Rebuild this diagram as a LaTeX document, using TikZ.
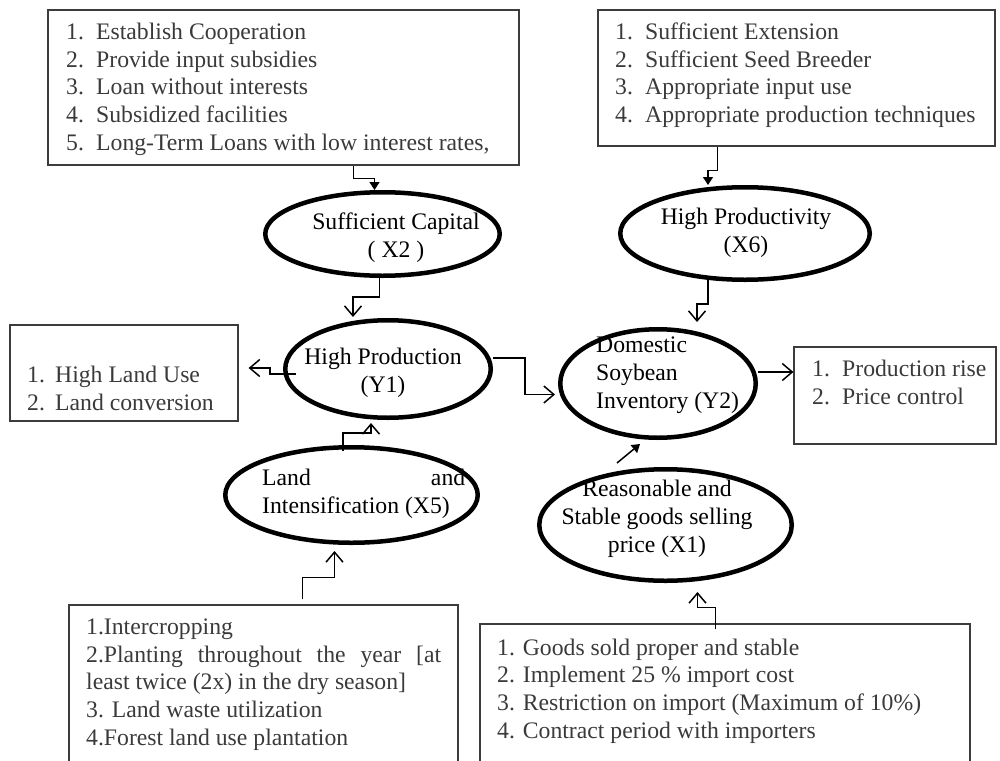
\documentclass[tikz,border=0pt]{standalone}
\usepackage{fontspec}
\setmainfont{Liberation Serif}
\usetikzlibrary{arrows.meta,shapes.geometric,calc}
\definecolor{boxgray}{HTML}{3C3C3C}
\definecolor{txtgray}{HTML}{3A3A3A}
\begin{document}
\begin{tikzpicture}[x=1pt,y=-1pt,
  ell/.style={ellipse,draw=black,line width=4.5pt,inner sep=0pt},
  box/.style={rectangle,draw=boxgray,line width=1.2pt,inner sep=0pt},
  btxt/.style={anchor=base west,align=left,inner sep=0pt,text=txtgray,font=\fontsize{23.7}{27.6}\selectfont},
  etxt/.style={anchor=base,align=center,inner sep=0pt,text=black,font=\fontsize{23.7}{28}\selectfont},
  oa/.style={line width=1.5pt,-{Straight Barb[length=10pt,width=17pt]}},
  fa/.style={line width=1.5pt,-{Triangle[length=8pt,width=10pt]}}]
\useasboundingbox (0,0) rectangle (1000,760);
% boxes
\node[box,minimum width=471pt,minimum height=155pt] (b1) at (283.5,87.5) {};
\node[box,minimum width=397pt,minimum height=136pt] (b2) at (796.5,78) {};
\node[box,minimum width=228pt,minimum height=96pt] (lb) at (124,373) {};
\node[box,minimum width=202pt,minimum height=97pt] (rb) at (895,395.5) {};
\node[box,minimum width=389pt,minimum height=170pt] (bl) at (263.5,690) {};
\node[box,minimum width=490pt,minimum height=151pt] (br) at (725,699.5) {};
% box texts (anchored at the baseline of their last line)
\node[btxt] (b1t) at (66,150) {\makebox[30pt][l]{1.}Establish Cooperation\\\makebox[30pt][l]{2.}Provide input subsidies\\\makebox[30pt][l]{3.}Loan without interests\\\makebox[30pt][l]{4.}Subsidized facilities\\\makebox[30pt][l]{5.}Long-Term Loans with low interest rates,};
\node[btxt] (b2t) at (615,122.5) {\makebox[30pt][l]{1.}Sufficient Extension\\\makebox[30pt][l]{2.}Sufficient Seed Breeder\\\makebox[30pt][l]{3.}Appropriate input use\\\makebox[30pt][l]{4.}Appropriate production techniques};
\node[btxt] (lbt) at (27,410) {\makebox[28pt][l]{1.}High Land Use\\\makebox[28pt][l]{2.}Land conversion};
\node[btxt] (rbt) at (812,404) {\makebox[30pt][l]{1.}Production rise\\\makebox[30pt][l]{2.}Price control};
\node[btxt] (blt) at (86,745) {1.Intercropping\\\hbox to 355pt{2.Planting\hfill throughout\hfill the\hfill year\hfill [at}\\least twice (2x) in the dry season]\\3. Land waste utilization\\4.Forest land use plantation};
\node[btxt] (brt) at (497,738) {1. Goods sold proper and stable\\2. Implement 25 \% import cost\\3. Restriction on import (Maximum of 10\%)\\4. Contract period with importers};
% ellipses
\node[ell,minimum width=234.5pt,minimum height=83.5pt] (x2) at (382.5,234) {};
\node[ell,minimum width=249.5pt,minimum height=92.5pt] (x6) at (745,233.5) {};
\node[ell,minimum width=205.5pt,minimum height=97.5pt] (y1) at (388,369) {};
\node[ell,minimum width=195.5pt,minimum height=108.5pt] (y2) at (658,383.5) {};
\node[ell,minimum width=252.5pt,minimum height=95.5pt] (x5) at (351.5,495) {};
\node[ell,minimum width=252.5pt,minimum height=111.5pt] (x1) at (665.5,525) {};
% ellipse texts (anchored at the baseline of their last line)
\node[etxt] (x2t) at (396,257) {Sufficient Capital\\( X2 )};
\node[etxt] (x6t) at (746,252) {High Productivity\\(X6)};
\node[etxt] (y1t) at (383,392) {High Production\\(Y1)};
\node[etxt,anchor=base west,align=left] (y2t) at (596,408) {Domestic\\Soybean\\Inventory (Y2)};
\node[etxt,anchor=base west,align=left] (x5t) at (262,513) {\hbox to 203pt{Land\hfill and}\\Intensification (X5)};
\node[etxt] (x1t) at (657,552) {Reasonable and\\Stable goods selling\\price (X1)};
% connectors
\draw[fa] ($(b1.south west)+(306,0)$) -- ++(0,13) -| ($(x2.north)+(-8,0)$);
\draw[fa] ($(b2.south west)+(120,0)$) -- ++(0,24) -| ($(x6.north)+(-37,0)$);
\draw[oa] ($(x2.south)+(-3,-1)$) -- ++(0,20) -| ($(y1.north)+(-35,-1)$);
\draw[oa] ($(y1.west)+(13,5)$) -- ++(-26,0) |- ($(lb.east)+(10,-5)$);
\draw[oa] ($(y1.east)+(0,-11)$) -- ++(32,0) |- ($(y2.west)+(-3,11)$);
\draw[oa] ($(x6.south)+(-37,-2)$) -- ++(0,24) -| ($(y2.north)+(39,-5)$);
\draw[oa] ($(y2.east)+(0,-11.5)$) -- ($(rb.west)+(0,-23.5)$);
\draw[oa] ($(x5.north)+(-8.5,6)$) -- ++(0,-18) -| ($(y1.south)+(-17,3)$);
\draw[oa] ($(bl.north west)+(234,-5)$) -- ++(0,-22) -| ($(x5.south)+(-17,6)$);
\draw[oa] ($(br.north west)+(236,6)$) -- ++(0,-22) -| ($(x1.south)+(32,9)$);
\draw[fa] ($(x1.north)+(-48.5,-4)$) -- ($(y2.south)+(-18,4)$);
\end{tikzpicture}
\end{document}
